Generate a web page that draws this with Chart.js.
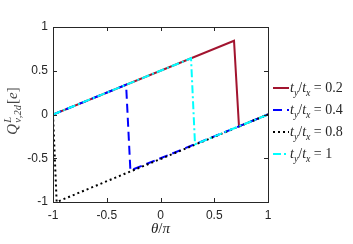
<!DOCTYPE html>
<html>
<head>
<meta charset="utf-8">
<script src="https://cdn.jsdelivr.net/npm/chart.js@4.4.0/dist/chart.umd.min.js"></script>
<style>
  html, body { margin: 0; padding: 0; background: #fff; }
  #wrap { width: 353px; height: 244px; }
</style>
</head>
<body>
<div id="wrap"><canvas id="c" width="353" height="244"></canvas></div>
<script>
// series data (theta / pi, charge)
const thetaRed = [-1, 0.684, 0.73, 1];
const qRed = [0, 0.842, -0.135, 0];
const thetaBlue = [-1, -0.32, -0.28, 1];
const qBlue = [0, 0.34, -0.64, 0];
const thetaBlack = [-1, -0.966, 1];
const qBlack = [0, -1, 0];
const thetaCyan = [-1, 0.284, 0.321, 1];
const qCyan = [0, 0.642, -0.34, 0];

const ratios = ['0.2', '0.4', '0.8', '1'];
const xTicks = [-1, -0.5, 0, 0.5, 1];
const yTicks = [-1, -0.5, 0, 0.5, 1];

const colors = ['#A2142F', '#0000FF', '#000000', '#00FFFF'];
const dashes = [[], [9, 5], [2, 3], [8, 3, 2, 3]];

function pts(xs, ys) { return xs.map((x, i) => ({ x: x, y: ys[i] })); }

const series = [
  pts(thetaRed, qRed),
  pts(thetaBlue, qBlue),
  pts(thetaBlack, qBlack),
  pts(thetaCyan, qCyan)
];

const axisColor = '#262626';

// draws pieces of math text: [text, style]
function mathText(ctx, parts, x, y, size) {
  let cx = x;
  parts.forEach(p => {
    const [txt, st] = p;
    let fs = size, dy = 0, it = false;
    if (st === 'i') it = true;
    if (st === 'sub') { fs = size * 0.7; dy = size * 0.28; it = true; }
    if (st === 'sup') { fs = size * 0.7; dy = -size * 0.4; it = true; }
    ctx.font = (it ? 'italic ' : '') + fs + 'px "Liberation Serif", "DejaVu Serif", serif';
    ctx.fillText(txt, cx, y + dy);
    cx += ctx.measureText(txt).width;
  });
  return cx - x;
}

const decor = {
  id: 'decor',
  afterDraw(chart) {
    const ctx = chart.ctx;
    const a = chart.chartArea;
    const xs = chart.scales.x, ys = chart.scales.y;
    ctx.save();
    // box
    ctx.strokeStyle = axisColor;
    ctx.lineWidth = 1;
    ctx.setLineDash([]);
    ctx.strokeRect(Math.round(a.left) + 0.5, Math.round(a.top) + 0.5,
      Math.round(a.right - a.left), Math.round(a.bottom - a.top));
    // inward ticks on all sides
    const tl = 4;
    ctx.beginPath();
    xTicks.forEach(v => {
      const px = Math.round(xs.getPixelForValue(v)) + 0.5;
      ctx.moveTo(px, a.bottom); ctx.lineTo(px, a.bottom - tl);
      ctx.moveTo(px, a.top); ctx.lineTo(px, a.top + tl);
    });
    yTicks.forEach(v => {
      const py = Math.round(ys.getPixelForValue(v)) + 0.5;
      ctx.moveTo(a.left, py); ctx.lineTo(a.left + tl, py);
      ctx.moveTo(a.right, py); ctx.lineTo(a.right - tl, py);
    });
    ctx.stroke();

    // x axis label
    ctx.fillStyle = axisColor;
    ctx.textBaseline = 'alphabetic';
    ctx.font = 'italic 15px "Liberation Serif", serif';
    const wx = ctx.measureText('θ/π').width;
    mathText(ctx, [['θ', 'i'], ['/', 'r'], ['π', 'i']], (a.left + a.right) / 2 - wx / 2, 233, 15);

    // y axis label (rotated)
    ctx.save();
    ctx.translate(17, 111);
    ctx.rotate(-Math.PI / 2);
    ctx.fillStyle = '#444';
    ctx.font = 'italic 15px "Liberation Serif", serif';
    let w = ctx.measureText('Q').width;
    ctx.font = 'italic 10.5px "Liberation Serif", serif';
    w += ctx.measureText('ν,2d').width + 2;
    ctx.font = '15px "Liberation Serif", serif';
    w += ctx.measureText('[e]').width;
    let sx = -w / 2;
    ctx.font = 'italic 15px "Liberation Serif", serif';
    ctx.fillText('Q', sx, 0);
    sx += ctx.measureText('Q').width + 1;
    ctx.font = 'italic 10.5px "Liberation Serif", serif';
    ctx.fillText('L', sx, -6);
    ctx.fillText('ν,2d', sx, 4);
    sx += ctx.measureText('ν,2d').width + 1;
    mathText(ctx, [['[', 'r'], ['e', 'i'], [']', 'r']], sx, 0, 15);
    ctx.restore();

    // legend
    const ly = [88, 110, 132, 154];
    ly.forEach((yy, i) => {
      ctx.strokeStyle = colors[i];
      ctx.lineWidth = 2;
      ctx.setLineDash(dashes[i]);
      ctx.beginPath();
      ctx.moveTo(273, yy); ctx.lineTo(289, yy);
      ctx.stroke();
      ctx.fillStyle = axisColor;
      mathText(ctx, [['t', 'i'], ['y', 'sub'], ['/', 'r'], ['t', 'i'], ['x', 'sub'], [' = ' + ratios[i], 'r']], 290, yy + 4, 14);
    });
    ctx.restore();
  }
};

const tickFmt = v => String(Math.round(v * 10) / 10);

new Chart(document.getElementById('c'), {
  type: 'scatter',
  data: {
    datasets: series.map((d, i) => ({
      label: 't_y/t_x = ' + ratios[i],
      data: d,
      showLine: true,
      borderColor: colors[i],
      borderWidth: 2,
      borderDash: dashes[i],
      pointRadius: 0,
      fill: false,
      tension: 0,
      order: 3 - i // later series on top
    }))
  },
  options: {
    responsive: false,
    animation: false,
    devicePixelRatio: 1,
    layout: { padding: { left: 0, top: 27, right: 85, bottom: 0 } },
    plugins: { legend: { display: false }, tooltip: { enabled: false } },
    scales: {
      x: {
        type: 'linear', min: -1, max: 1,
        grid: { display: false, drawTicks: false },
        border: { display: false },
        afterBuildTicks: s => { s.ticks = xTicks.map(v => ({ value: v })); },
        afterFit: s => { s.height = 42; },
        ticks: { color: axisColor, font: { family: '"Liberation Sans", Arial, sans-serif', size: 12 }, padding: 6, maxRotation: 0, callback: tickFmt }
      },
      y: {
        type: 'linear', min: -1, max: 1,
        grid: { display: false, drawTicks: false },
        border: { display: false },
        afterBuildTicks: s => { s.ticks = yTicks.map(v => ({ value: v })); },
        afterFit: s => { s.width = 53; },
        ticks: { color: axisColor, font: { family: '"Liberation Sans", Arial, sans-serif', size: 12 }, padding: 5, callback: tickFmt }
      }
    }
  },
  plugins: [decor]
});
</script>
</body>
</html>
